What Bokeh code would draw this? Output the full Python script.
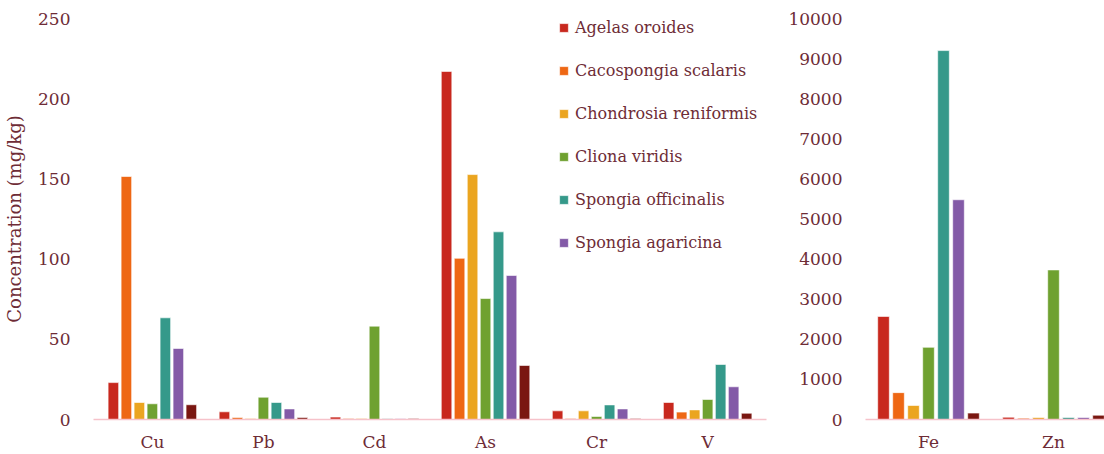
from bokeh.plotting import figure
from bokeh.layouts import row
from bokeh.models import ColumnDataSource, FixedTicker, Legend, LegendItem, Range1d
from bokeh.transform import dodge
from bokeh.embed import file_html
from bokeh.resources import INLINE

# ---- data ----
elements_left = ["Cu", "Pb", "Cd", "As", "Cr", "V"]
elements_right = ["Fe", "Zn"]
species = ["Agelas oroides", "Cacospongia scalaris", "Chondrosia reniformis",
           "Cliona viridis", "Spongia officinalis", "Spongia agaricina", ""]
agelas_left = [23, 4.8, 1.5, 217, 5.4, 10.6]
cacospongia_left = [151.5, 1.2, 0.6, 100.5, 0.6, 4.6]
chondrosia_left = [10.6, 0.6, 0.6, 152.7, 5.4, 6.0]
cliona_left = [9.8, 13.9, 58.2, 75.4, 1.9, 12.5]
officinalis_left = [63.4, 10.6, 0.5, 117, 9.1, 34.3]
agaricina_left = [44.3, 6.6, 0.5, 89.8, 6.6, 20.4]
seventh_left = [9.2, 1.2, 0.6, 33.7, 0.6, 3.9]
agelas_right = [2570, 57]
cacospongia_right = [670, 32]
chondrosia_right = [350, 50]
cliona_right = [1800, 3730]
officinalis_right = [9200, 50]
agaricina_right = [5480, 50]
seventh_right = [160, 107]
left_ticks = [0, 50, 100, 150, 200, 250]
right_ticks = [0, 1000, 2000, 3000, 4000, 5000, 6000, 7000, 8000, 9000, 10000]

colors = ["#C8281E", "#EE6714", "#EBA520", "#6FA130", "#35998A", "#835AA7", "#7A1711"]
TXT = "#6E2C36"
FONT = "DejaVu Serif"
FS = "17px"

left_series = [agelas_left, cacospongia_left, chondrosia_left, cliona_left,
               officinalis_left, agaricina_left, seventh_left]
right_series = [agelas_right, cacospongia_right, chondrosia_right, cliona_right,
                officinalis_right, agaricina_right, seventh_right]


def make_fig(cats, series, ymax, ticks, fw, xr, ylabel, pitch, bw, bl, br):
    data = {"idx": list(range(len(cats)))}
    for i, s in enumerate(series):
        data[f"s{i}"] = s
    src = ColumnDataSource(data)
    p = figure(frame_width=fw, frame_height=401, output_backend="svg", toolbar_location=None,
               x_range=Range1d(*xr), y_range=Range1d(0, ymax),
               min_border_left=bl, min_border_right=br, min_border_top=18,
               min_border_bottom=34)
    p.outline_line_color = None
    p.xgrid.visible = False
    p.ygrid.visible = False
    rs = []
    for i in range(len(series)):
        r = p.vbar(x=dodge("idx", (i - 3) * pitch), top=f"s{i}", width=bw, source=src,
                   fill_color=colors[i], line_color="white", line_alpha=0.6, line_width=1)
        rs.append(r)
    p.xaxis.ticker = FixedTicker(ticks=list(range(len(cats))))
    p.xaxis.major_label_overrides = {i: c for i, c in enumerate(cats)}
    p.yaxis.ticker = FixedTicker(ticks=ticks)
    for ax in (p.xaxis[0], p.yaxis[0]):
        ax.major_tick_line_color = None
        ax.minor_tick_line_color = None
        ax.major_label_text_font = FONT
        ax.major_label_text_font_size = FS
        ax.major_label_text_color = TXT
    p.yaxis.axis_line_color = None
    p.yaxis.major_label_standoff = 17
    p.xaxis.axis_line_color = "#F6C2CA"
    p.xaxis.axis_line_width = 1.5
    p.xaxis.major_label_standoff = 6
    if ylabel:
        p.yaxis.axis_label = ylabel
        p.yaxis.axis_label_text_font = FONT
        p.yaxis.axis_label_text_font_size = "18px"
        p.yaxis.axis_label_text_font_style = "normal"
        p.yaxis.axis_label_text_color = TXT
        p.yaxis.axis_label_standoff = 10
    return p, rs


p1, rs1 = make_fig(elements_left, left_series, 250, left_ticks, 673, (-0.53, 5.53),
                   "Concentration (mg/kg)", 0.117, 0.095, 93, 14)
p2, _ = make_fig(elements_right, right_series, 10000, right_ticks, 239, (-0.504, 1.408),
                 None, 0.12, 0.093, 85, 0)

legend = Legend(items=[LegendItem(label=species[i], renderers=[rs1[i]]) for i in range(6)],
                location=(465, 165), orientation="vertical",
                glyph_width=11, glyph_height=11, label_standoff=6,
                label_height=23, spacing=20, padding=0, margin=0,
                border_line_color=None, background_fill_alpha=0,
                label_text_font=FONT, label_text_font_size="16px", label_text_color=TXT)
p1.add_layout(legend, "center")

layout = row(p1, p2)
open("out.html", "w").write(file_html(layout, INLINE))
